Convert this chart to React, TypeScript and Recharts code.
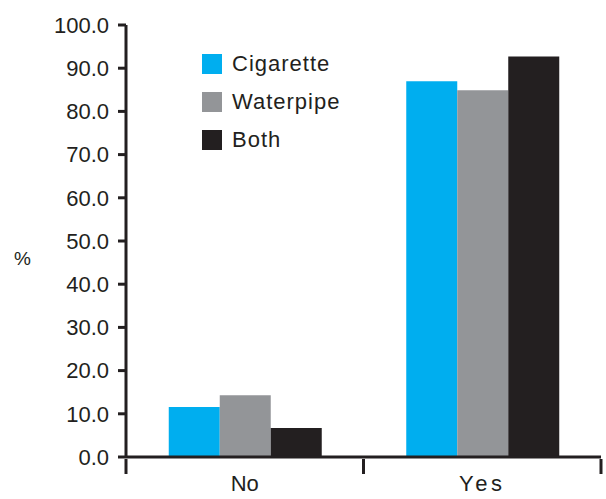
import React from "react";
import {
  BarChart,
  Bar,
  XAxis,
  YAxis,
  Label,
  Legend,
} from "recharts";

const categories = ["No", "Yes"];
const cigarette = [11.6, 87.0];
const waterpipe = [14.3, 84.9];
const both = [6.7, 92.7];
const yTicks = [0, 10, 20, 30, 40, 50, 60, 70, 80, 90, 100];

const data = categories.map((name, i) => ({
  name,
  Cigarette: cigarette[i],
  Waterpipe: waterpipe[i],
  Both: both[i],
}));

const INK = "#231F20";
const FONT = '"Liberation Sans", Arial, Helvetica, sans-serif';

const series = [
  { key: "Cigarette", color: "#00AEEF" },
  { key: "Waterpipe", color: "#939598" },
  { key: "Both", color: INK },
];

// category label plus tick marks at the band edges (half a band either side)
function CategoryTick(props: any) {
  const { x, y, payload, index, visibleTicksCount } = props;
  const half = payload.offset || 0;
  const top = y - 8;
  const isLast = index === visibleTicksCount - 1;
  return (
    <g>
      <line x1={x - half} x2={x - half} y1={top} y2={top + 15} stroke={INK} strokeWidth={3} />
      {isLast && (
        <line x1={x + half} x2={x + half} y1={top} y2={top + 15} stroke={INK} strokeWidth={3} />
      )}
      <text
        x={x}
        y={y}
        dy={24}
        textAnchor="middle"
        fontSize={22}
        fill={INK}
        fontFamily={FONT}
        letterSpacing={payload.value === "Yes" ? 3.5 : 0}
      >
        {payload.value}
      </text>
    </g>
  );
}

function LegendBox() {
  return (
    <div style={{ fontFamily: FONT }}>
      {series.map((s) => (
        <div
          key={s.key}
          style={{ display: "flex", alignItems: "center", height: 38 }}
        >
          <span
            style={{
              width: 20,
              height: 20,
              background: s.color,
              display: "inline-block",
              marginRight: 10,
            }}
          />
          <span style={{ fontSize: 22, color: INK, letterSpacing: 1 }}>
            {s.key}
          </span>
        </div>
      ))}
    </div>
  );
}

export default function App() {
  return (
    <div style={{ position: "absolute", left: 0, top: 0, background: "#fff" }}>
      <BarChart
        width={606}
        height={499}
        data={data}
        margin={{ top: 25, right: 5, left: 0, bottom: 0 }}
        barCategoryGap="18%"
        barGap={0}
      >
        <XAxis
          dataKey="name"
          height={42}
          axisLine={{ stroke: INK, strokeWidth: 3 }}
          tickLine={false}
          tickSize={8}
          tick={<CategoryTick />}
        />
        <YAxis
          width={126}
          domain={[0, 100]}
          ticks={yTicks}
          interval={0}
          tickFormatter={(v: number) => v.toFixed(1)}
          axisLine={{ stroke: INK, strokeWidth: 3 }}
          tickLine={{ stroke: INK, strokeWidth: 3 }}
          tickSize={8}
          tickMargin={9}
          tick={{ fontSize: 22, fill: INK, fontFamily: FONT }}
        >
          <Label
            value="%"
            position="insideLeft"
            offset={14}
            dy={17}
            style={{ fontSize: 19, fill: INK, fontFamily: FONT }}
          />
        </YAxis>
        <Legend
          content={<LegendBox />}
          layout="vertical"
          verticalAlign="middle"
          align="center"
          wrapperStyle={{ left: 202, top: 45, width: 180 }}
        />
        {series.map((s) => (
          <Bar
            key={s.key}
            dataKey={s.key}
            fill={s.color}
            isAnimationActive={false}
          />
        ))}
      </BarChart>
    </div>
  );
}
